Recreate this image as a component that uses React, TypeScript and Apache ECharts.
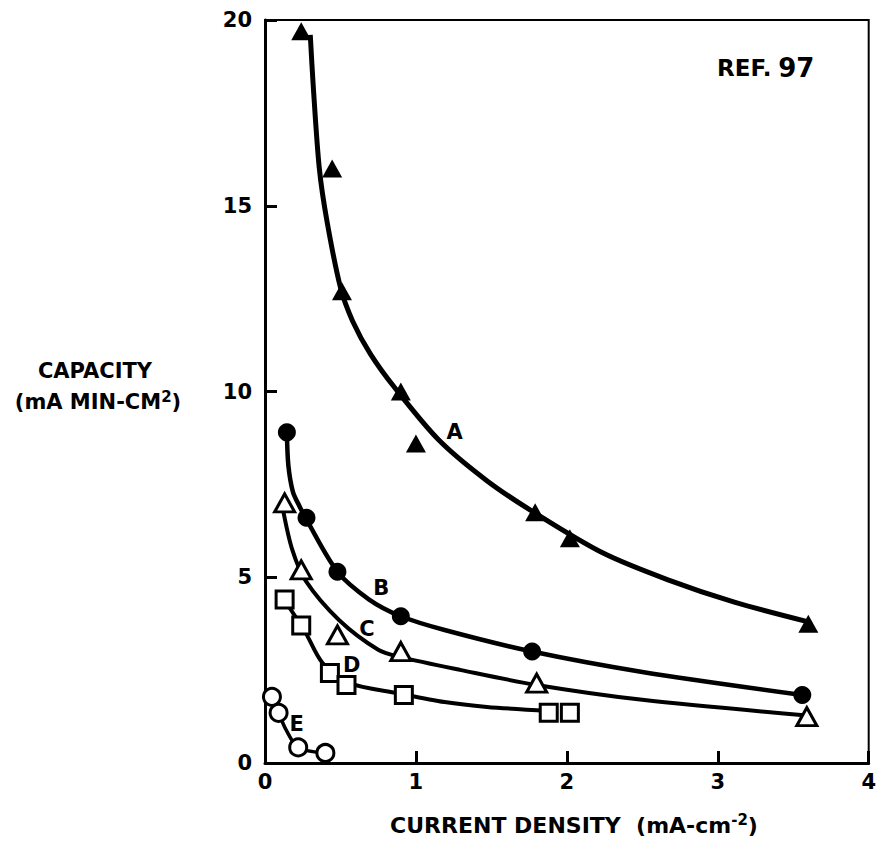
import React, { useEffect, useRef } from "react";
import * as echarts from "echarts";

// Measured markers (current density mA-cm^-2, capacity mA min-cm^2)
const aX = [0.24, 0.445, 0.51, 0.9, 1.0, 1.79, 2.02, 3.6];
const aY = [19.7, 16.0, 12.7, 10.0, 8.6, 6.75, 6.05, 3.75];
const bX = [0.145, 0.275, 0.48, 0.9, 1.77, 3.56];
const bY = [8.9, 6.6, 5.15, 3.95, 3.0, 1.83];
const cX = [0.13, 0.24, 0.48, 0.9, 1.8, 3.59];
const cY = [7.0, 5.2, 3.45, 3.0, 2.15, 1.25];
const dX = [0.13, 0.24, 0.43, 0.54, 0.92, 1.88, 2.02];
const dY = [4.4, 3.7, 2.42, 2.1, 1.83, 1.35, 1.35];
const eX = [0.046, 0.09, 0.22, 0.4];
const eY = [1.78, 1.35, 0.42, 0.27];

// Fitted curves
const aCurveX = [0.3, 0.32, 0.36, 0.41, 0.5, 0.58, 0.7, 0.86, 1.15, 1.47, 1.8, 2.24, 2.67, 3.11, 3.6];
const aCurveY = [19.6, 18.2, 16.0, 14.6, 12.8, 11.9, 11.0, 10.1, 8.7, 7.6, 6.7, 5.65, 4.93, 4.33, 3.8];
const bCurveX = [0.145, 0.155, 0.185, 0.23, 0.275, 0.48, 0.69, 0.9, 1.19, 1.77, 2.5, 3.56];
const bCurveY = [8.9, 8.0, 7.3, 6.9, 6.55, 5.15, 4.4, 3.95, 3.58, 3.0, 2.45, 1.83];
const cCurveX = [0.12, 0.18, 0.27, 0.49, 0.75, 0.9, 1.3, 1.8, 2.5, 3.59];
const cCurveY = [6.8, 5.75, 4.9, 3.85, 3.05, 2.85, 2.5, 2.1, 1.7, 1.28];
const dCurveX = [0.13, 0.16, 0.27, 0.38, 0.56, 0.88, 1.19, 1.47, 1.88];
const dCurveY = [4.4, 4.2, 3.5, 2.7, 2.15, 1.88, 1.64, 1.51, 1.4];
const eCurveX = [0.046, 0.09, 0.14, 0.22, 0.4];
const eCurveY = [1.78, 1.35, 0.89, 0.42, 0.27];

// Curve labels
const labelText = ["A", "B", "C", "D", "E"];
const labelX = [1.257, 0.77, 0.675, 0.575, 0.21];
const labelY = [8.91, 4.71, 3.62, 2.63, 1.05];

const xTicks = [0, 1, 2, 3, 4];
const yTicks = [0, 5, 10, 15, 20];

const FONT = "'DejaVu Sans', 'Liberation Sans', Arial, sans-serif";

const zip = (xs: number[], ys: number[]) => xs.map((x, i) => [x, ys[i]]);

export default function App() {
  const ref = useRef<HTMLDivElement>(null);
  useEffect(() => {
    if (!ref.current) return;
    const chart = echarts.init(ref.current, undefined, { renderer: "svg" });
    const curve = (name: string, xs: number[], ys: number[], w: number) => ({
      name,
      type: "line",
      data: zip(xs, ys),
      smooth: 0.3,
      showSymbol: false,
      symbol: "none",
      lineStyle: { color: "#000", width: w, opacity: 1 },
      z: 2,
      silent: true,
    });
    const marks = (name: string, xs: number[], ys: number[], symbol: string, size: any, filled: boolean) => ({
      name,
      type: "scatter",
      data: zip(xs, ys),
      symbol,
      symbolSize: size,
      itemStyle: filled
        ? { color: "#000", opacity: 1 }
        : { color: "#fff", borderColor: "#000", borderWidth: 3, opacity: 1 },
      z: 5,
      silent: true,
    });
    chart.setOption({
      animation: false,
      backgroundColor: "#fff",
      grid: {
        left: 265,
        right: 3,
        top: 20,
        bottom: 80,
        show: true,
        borderColor: "#000",
        borderWidth: 2,
        backgroundColor: "transparent",
      },
      xAxis: {
        type: "value",
        min: xTicks[0],
        max: xTicks[xTicks.length - 1],
        interval: 1,
        splitLine: { show: false },
        axisLine: { show: true, lineStyle: { color: "#000", width: 3 } },
        axisTick: { show: true, inside: true, length: 12, lineStyle: { color: "#000", width: 3 } },
        axisLabel: {
          color: "#000",
          fontFamily: FONT,
          fontWeight: "bold",
          fontSize: 21,
          margin: 8,
        },
      },
      yAxis: {
        type: "value",
        min: yTicks[0],
        max: yTicks[yTicks.length - 1],
        interval: 5,
        splitLine: { show: false },
        axisLine: { show: true, lineStyle: { color: "#000", width: 3 } },
        axisTick: { show: true, inside: true, length: 12, lineStyle: { color: "#000", width: 3 } },
        axisLabel: {
          color: "#000",
          fontFamily: FONT,
          fontWeight: "bold",
          fontSize: 21,
          margin: 13,
        },
      },
      series: [
        curve("A curve", aCurveX, aCurveY, 5),
        curve("B curve", bCurveX, bCurveY, 4.5),
        curve("C curve", cCurveX, cCurveY, 4),
        curve("D curve", dCurveX, dCurveY, 4),
        curve("E curve", eCurveX, eCurveY, 3.5),
        marks("A", aX, aY, "triangle", [20, 18], true),
        marks("B", bX, bY, "circle", 18, true),
        marks("C", cX, cY, "triangle", [20, 18], false),
        marks("D", dX, dY, "rect", 17, false),
        marks("E", eX, eY, "circle", 17, false),
        {
          name: "labels",
          type: "scatter",
          data: labelX.map((x, i) => ({ value: [x, labelY[i]], name: labelText[i] })),
          symbolSize: 0,
          silent: true,
          z: 6,
          itemStyle: { opacity: 1 },
          label: {
            show: true,
            position: "inside",
            formatter: (p: any) => p.name,
            color: "#000",
            opacity: 1,
            fontFamily: FONT,
            fontWeight: "bold",
            fontSize: 21,
          },
        },
      ],
      graphic: [
        {
          type: "text",
          x: 717,
          y: 68,
          style: {
            text: "{a|REF.}  {b|97}",
            textAlign: "left",
            textVerticalAlign: "middle",
            fill: "#000",
            rich: {
              a: { fontFamily: FONT, fontWeight: "bold", fontSize: 23, fill: "#000" },
              b: { fontFamily: FONT, fontWeight: "bold", fontSize: 26, fill: "#000" },
            },
          },
        },
        {
          type: "text",
          x: 95,
          y: 371,
          style: {
            text: "CAPACITY",
            textAlign: "center",
            textVerticalAlign: "middle",
            fill: "#000",
            font: `bold 21px ${FONT}`,
          },
        },
        {
          type: "text",
          x: 98,
          y: 402,
          style: {
            text: "{a|(mA MIN-CM}{s|2}{a|)}",
            textAlign: "center",
            textVerticalAlign: "middle",
            fill: "#000",
            rich: {
              a: { fontFamily: FONT, fontWeight: "bold", fontSize: 21, fill: "#000" },
              s: { fontFamily: FONT, fontWeight: "bold", fontSize: 15, fill: "#000", verticalAlign: "bottom", padding: [0, 0, 10, 0] },
            },
          },
        },
        {
          type: "text",
          x: 574,
          y: 825,
          style: {
            text: "{a|CURRENT DENSITY  (mA-cm}{s|-2}{a|)}",
            textAlign: "center",
            textVerticalAlign: "middle",
            fill: "#000",
            rich: {
              a: { fontFamily: FONT, fontWeight: "bold", fontSize: 22, fill: "#000" },
              s: { fontFamily: FONT, fontWeight: "bold", fontSize: 15, fill: "#000", verticalAlign: "bottom", padding: [0, 0, 10, 0] },
            },
          },
        },
      ],
    });
    return () => chart.dispose();
  }, []);
  return (
    <div
      ref={ref}
      style={{ position: "fixed", left: 0, top: 0, width: 879, height: 843, background: "#fff" }}
    />
  );
}
